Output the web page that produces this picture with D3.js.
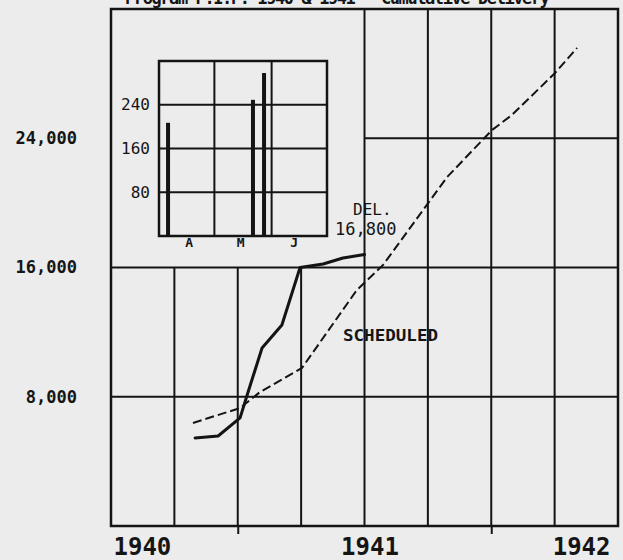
<!DOCTYPE html>
<html>
<head>
<meta charset="utf-8">
<script src="https://cdn.jsdelivr.net/npm/d3@7"></script>
<style>
  html, body { margin: 0; padding: 0; background: #ececec; }
  svg { display: block; }
  text { font-family: "DejaVu Sans Mono", "Liberation Mono", monospace; fill: #151515; }
</style>
</head>
<body>
<svg id="chart" width="623" height="560"></svg>
<script>
// ---- data ----
const titleText = "Program P.I.P. 1940 & 1941 - Cumulative Delivery";

// x positions are months counted from January 1940
const yearTicks = [0, 12, 24];
const yearLabels = ["1940", "1941", "1942"];
const halfYearTicks = [6, 18];
const quarterLines = [3, 6, 9, 12, 15, 18, 21];
const valueTicks = [8000, 16000, 24000];

const deliveredMonth = [3.98, 5.07, 6.11, 6.49, 7.15, 8.09, 8.95, 10.04, 10.98, 12.0];
const deliveredValue = [5450, 5570, 6690, 8290, 11020, 12440, 16000, 16220, 16590, 16800];

const scheduledMonth = [3.88, 6.11, 7.05, 9.04, 11.64, 12.88, 15.91, 18.04, 18.98, 21.02, 22.06];
const scheduledValue = [6380, 7300, 8290, 9780, 14610, 16160, 21600, 24510, 25440, 28040, 29590];

// inset: days counted from April 1
const insetMonths = ["A", "M", "J"];
const insetMonthMid = [16, 44, 73];
const insetMonthBounds = [30, 61];
const insetTicks = [80, 160, 240];
const insetBarDay = [4.9, 50.9, 56.9];
const insetBarValue = [207, 249, 298];

// ---- drawing ----
const ink = "#141414";
const svg = d3.select("#chart");

const x = d3.scaleLinear().domain([0, 24]).range([111, 618]);
const y = d3.scaleLinear().domain([0, 32000]).range([526, 9]);

// title line, running off the top edge of the sheet
svg.append("text")
  .attr("x", 125).attr("y", 4)
  .attr("font-size", 17).attr("font-weight", "bold")
  .attr("textLength", 425).attr("lengthAdjust", "spacing")
  .text(titleText);

// grid: quarter verticals (short ones stop at 16,000), value horizontals
const grid = svg.append("g").attr("stroke", ink).attr("stroke-width", 2);
grid.selectAll("line.v").data(quarterLines).join("line")
  .attr("class", "v")
  .attr("x1", d => x(d)).attr("x2", d => x(d))
  .attr("y1", y(0)).attr("y2", d => d < 12 ? y(16000) : y(32000));
grid.selectAll("line.h").data(valueTicks).join("line")
  .attr("class", "h")
  .attr("x1", d => d > 16000 ? x(12) : x(0)).attr("x2", x(24))
  .attr("y1", d => y(d)).attr("y2", d => y(d));

// frame
svg.append("rect")
  .attr("x", x(0)).attr("y", y(32000))
  .attr("width", x(24) - x(0)).attr("height", y(0) - y(32000))
  .attr("fill", "none").attr("stroke", ink).attr("stroke-width", 2.5);

// y axis labels
svg.append("g")
  .attr("transform", `translate(${x(0)},0)`)
  .call(d3.axisLeft(y).tickValues(valueTicks).tickSize(0).tickPadding(34).tickFormat(d3.format(",")))
  .call(g => g.select(".domain").remove())
  .attr("font-family", null).attr("font-size", null)
  .selectAll("text").attr("font-size", 17).attr("font-weight", "bold");

// half-year tick marks below the frame
svg.append("g")
  .attr("transform", `translate(0,${y(0)})`)
  .call(d3.axisBottom(x).tickValues(halfYearTicks).tickSize(8).tickFormat(""))
  .call(g => g.select(".domain").remove())
  .selectAll("line").attr("stroke", ink).attr("stroke-width", 2);

// year labels
const yearShift = [2, 5, -8];
const yearAnchor = ["start", "middle", "end"];
svg.append("g")
  .attr("transform", `translate(0,${y(0)})`)
  .call(d3.axisBottom(x).tickValues(yearTicks).tickSize(0).tickPadding(12).tickFormat((d, i) => yearLabels[i]))
  .call(g => g.select(".domain").remove())
  .attr("font-family", null).attr("font-size", null)
  .selectAll("text")
  .attr("font-size", 24).attr("font-weight", "bold")
  .attr("text-anchor", (d, i) => yearAnchor[i])
  .attr("dx", (d, i) => yearShift[i]);

// scheduled (dashed) and delivered (solid) curves
const line = d3.line().x(d => x(d[0])).y(d => y(d[1]));
svg.append("path")
  .datum(d3.zip(scheduledMonth, scheduledValue))
  .attr("d", line)
  .attr("fill", "none").attr("stroke", ink)
  .attr("stroke-width", 2).attr("stroke-dasharray", "9,4");
svg.append("path")
  .datum(d3.zip(deliveredMonth, deliveredValue))
  .attr("d", line)
  .attr("fill", "none").attr("stroke", ink)
  .attr("stroke-width", 3).attr("stroke-linejoin", "round").attr("stroke-linecap", "round");

// annotations
svg.append("text").attr("x", 353).attr("y", 215).attr("font-size", 16).text("DEL.");
svg.append("text").attr("x", 335).attr("y", 235).attr("font-size", 17)
  .text(d3.format(",")(deliveredValue[deliveredValue.length - 1]));
svg.append("text").attr("x", 343).attr("y", 341).attr("font-size", 16).attr("font-weight", "bold")
  .attr("textLength", 95).attr("lengthAdjust", "spacingAndGlyphs")
  .text("SCHEDULED");

// ---- inset: spring deliveries ----
const ix = d3.scaleLinear().domain([0, 91]).range([159, 327]);
const iy = d3.scaleLinear().domain([0, 320]).range([236, 61]);
const inset = svg.append("g");

inset.selectAll("line.iv").data(insetMonthBounds).join("line")
  .attr("class", "iv")
  .attr("x1", d => ix(d)).attr("x2", d => ix(d))
  .attr("y1", iy(0)).attr("y2", iy(320))
  .attr("stroke", ink).attr("stroke-width", 2);
inset.selectAll("line.ih").data(insetTicks).join("line")
  .attr("class", "ih")
  .attr("x1", ix(0)).attr("x2", ix(91))
  .attr("y1", d => iy(d)).attr("y2", d => iy(d))
  .attr("stroke", ink).attr("stroke-width", 2);

inset.selectAll("rect.bar").data(d3.zip(insetBarDay, insetBarValue)).join("rect")
  .attr("class", "bar")
  .attr("x", d => ix(d[0]) - 2).attr("width", 4)
  .attr("y", d => iy(d[1])).attr("height", d => iy(0) - iy(d[1]))
  .attr("fill", ink);

inset.append("rect")
  .attr("x", ix(0)).attr("y", iy(320))
  .attr("width", ix(91) - ix(0)).attr("height", iy(0) - iy(320))
  .attr("fill", "none").attr("stroke", ink).attr("stroke-width", 2.5);

inset.append("g")
  .attr("transform", `translate(${ix(0)},0)`)
  .call(d3.axisLeft(iy).tickValues(insetTicks).tickSize(0).tickPadding(9))
  .call(g => g.select(".domain").remove())
  .attr("font-family", null).attr("font-size", null)
  .selectAll("text").attr("font-size", 16);

inset.append("g")
  .attr("transform", `translate(0,${iy(0)})`)
  .call(d3.axisBottom(ix).tickValues(insetMonthMid).tickSize(0).tickPadding(2).tickFormat((d, i) => insetMonths[i]))
  .call(g => g.select(".domain").remove())
  .attr("font-family", null).attr("font-size", null)
  .selectAll("text").attr("font-size", 13).attr("font-weight", "bold");
</script>
</body>
</html>
